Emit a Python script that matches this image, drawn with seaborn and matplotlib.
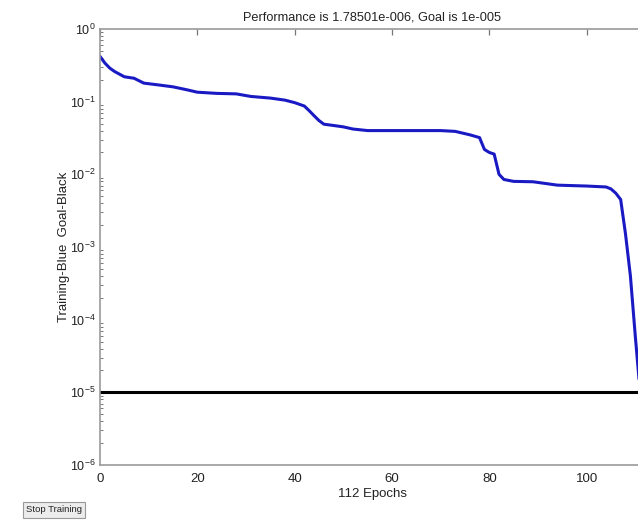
import matplotlib
matplotlib.use("Agg")
import matplotlib.pyplot as plt
import seaborn as sns
import pandas as pd
import numpy as np
from matplotlib.ticker import LogLocator, LogFormatterSciNotation, FixedLocator

# ---- data ----
epochs = [0, 1, 2, 3, 5, 7, 9, 12, 15, 18, 20, 24, 28, 31, 35, 38, 40, 42, 43, 44,
          45, 46, 48, 50, 52, 55, 60, 65, 70, 73, 76, 78, 79, 80, 81, 82, 83, 85,
          89, 94, 100, 104, 105, 106, 107, 108, 109, 110, 111, 112]
performance = [0.42, 0.34, 0.29, 0.26, 0.22, 0.21, 0.18, 0.17, 0.16, 0.145, 0.135,
               0.13, 0.128, 0.118, 0.112, 0.105, 0.097, 0.087, 0.075, 0.064,
               0.055, 0.049, 0.047, 0.045, 0.042, 0.040, 0.040, 0.040, 0.040,
               0.039, 0.035, 0.032, 0.022, 0.020, 0.019, 0.010, 0.0085, 0.008,
               0.0079, 0.0071, 0.0069, 0.0067, 0.0063, 0.0055, 0.0045, 0.0015,
               4e-4, 6e-5, 1e-5, 1.78501e-6]
goal_x = [0, 112]
goal_y = [1e-5, 1e-5]
x_ticks = [0, 20, 40, 60, 80, 100]
title_text = "Performance is 1.78501e-006, Goal is 1e-005"
x_label = "112 Epochs"
y_label = "Training-Blue  Goal-Black"
button_text = "Stop Training"

sns.set_theme(style="white")
plt.rcParams['font.family'] = ['Liberation Sans', 'DejaVu Sans']
plt.rcParams['mathtext.fontset'] = 'custom'
plt.rcParams['mathtext.rm'] = 'Liberation Sans'
plt.rcParams['mathtext.it'] = 'Liberation Sans'
plt.rcParams['axes.unicode_minus'] = False

fig = plt.figure(figsize=(6.38, 5.22), dpi=100)
fig.patch.set_facecolor('white')
ax = fig.add_axes([100/638, 1-465/522, 545/638, (465-29)/522])

df = pd.DataFrame({"epoch": epochs, "perf": performance})
gdf = pd.DataFrame({"epoch": goal_x, "goal": goal_y})
sns.lineplot(data=gdf, x="epoch", y="goal", ax=ax, color="black", linewidth=2.2)
sns.lineplot(data=df, x="epoch", y="perf", ax=ax, color="#1a1ac4", linewidth=2.2)

ax.set_yscale("log")
ax.set_ylim(1e-6, 1)
ax.set_xlim(0, 112)
ax.xaxis.set_major_locator(FixedLocator(x_ticks))
ax.yaxis.set_major_locator(LogLocator(base=10, numticks=10))
ax.yaxis.set_minor_locator(LogLocator(base=10, subs=np.arange(2, 10), numticks=100))
ax.yaxis.set_major_formatter(LogFormatterSciNotation())

ax.tick_params(axis='both', which='both', direction='in', top=True, right=True,
               colors='#777777', labelcolor='#222222', labelsize=9.5)
ax.tick_params(axis='both', which='major', length=4, width=0.9)
ax.tick_params(axis='x', which='major', pad=6)
ax.tick_params(axis='y', which='major', pad=3, labelsize=9)
ax.tick_params(axis='y', which='minor', length=2.5, width=0.7, left=True)
ax.tick_params(axis='x', which='minor', bottom=False, top=False)
for s in ax.spines.values():
    s.set_color('#999999')
    s.set_linewidth(1.2)

ax.set_title(title_text, fontsize=9.2, color='#222222', pad=6)
ax.set_xlabel(x_label, fontsize=9.5, color='#222222', labelpad=2)
ax.set_ylabel(y_label, fontsize=9.5, color='#222222', labelpad=0)

fig.text(54/638, 1-510/522, button_text, fontsize=6.8, color='#222222',
         ha='center', va='center',
         bbox=dict(boxstyle='square,pad=0.35', facecolor='#ececec',
                   edgecolor='#999999', linewidth=0.8))

fig.savefig("out.png", dpi=100, facecolor='white')
